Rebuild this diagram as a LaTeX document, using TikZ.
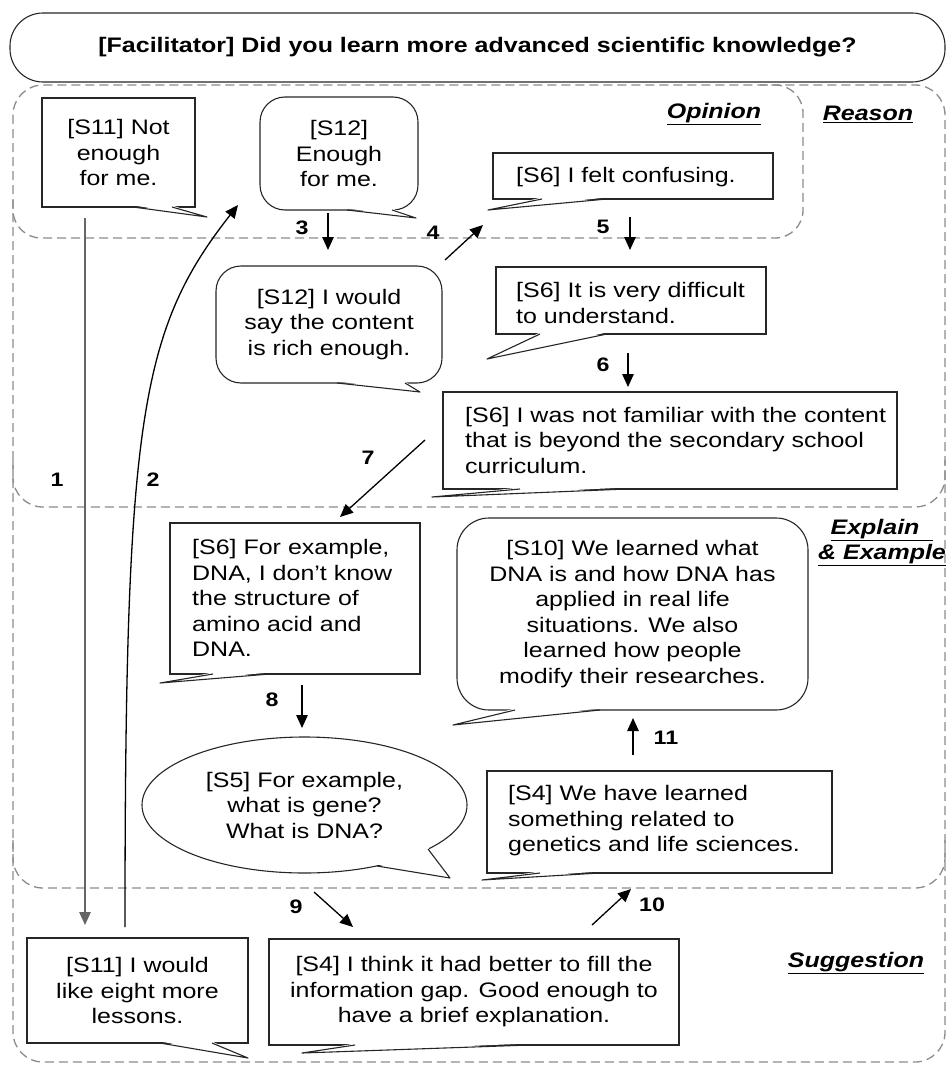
\documentclass[tikz,border=0pt]{standalone}
\usepackage{fontspec}
\setmainfont{Liberation Sans}[FakeStretch=1.19]
\usetikzlibrary{arrows.meta,shapes.geometric,calc}
\newcommand\bodyfont{\fontsize{21}{25.5}\selectfont}
\newcommand\numfont{\fontsize{19.5}{19.5}\selectfont\bfseries}
\newcommand\sectfont{\fontsize{21}{25}\selectfont\bfseries\itshape}
\newcommand\calltail[3]{%
  \fill[white] ($#1+(0,-1.6)$) -- ($#2+(0,-1.6)$) -- #3 -- cycle;
  \draw[tailline] #1 -- #3 -- #2;}
\begin{document}
\begin{tikzpicture}[x=1pt,y=-1pt,
  box/.style={draw=black!85, line width=1.1pt, fill=white, inner sep=0pt, align=center, font=\bodyfont},
  rbox/.style={box, rounded corners=25pt},
  txt/.style={inner sep=0pt, align=left, anchor=west, font=\bodyfont},
  tailline/.style={draw=black!85, line width=1.1pt, line join=round},
  region/.style={draw=black!45, line width=1.3pt, dash pattern=on 9pt off 5pt},
  flow/.style={draw=black, line width=1.3pt, -{Triangle[length=13pt,width=11.5pt]}},
  num/.style={inner sep=0pt, font=\numfont},
  sect/.style={inner sep=0pt, font=\sectfont}]
\useasboundingbox (0,0) rectangle (947,1065);

% dashed regions
\draw[region, rounded corners=30pt] (13,85) rectangle (945,1062);
\draw[region, rounded corners=28pt] (13,200) -- (13,238) -- (803,238) -- (803,85) -- (760,85);
\draw[region, rounded corners=30pt] (13,460) -- (13,507) -- (945,507) -- (945,460);
\draw[region, rounded corners=30pt] (13,840) -- (13,888) -- (945,888) -- (945,840);

% title
\node[box, rounded corners=33pt, minimum width=935pt, minimum height=69pt, font=\bodyfont\bfseries] (title) at (477.5,47.5) {[Facilitator] Did you learn more advanced scientific knowledge?};

% statements
\node[box, minimum width=153pt, minimum height=109pt] (s11a) at (118.5,152.5) {[S11] Not\\enough\\for me.};
\node[rbox, minimum width=158pt, minimum height=113pt] (s12a) at (339,153.5) {[S12]\\Enough\\for me.};
\node[box, minimum width=280pt, minimum height=46pt] (s6a) at (633,176) {};
\node[txt] (s6at) at (516,177) {[S6] I felt confusing.};
\node[rbox, minimum width=226pt, minimum height=117pt] (s12b) at (329,324.5) {[S12] I would\\say the content\\is rich enough.};
\node[box, minimum width=270pt, minimum height=67pt] (s6b) at (631,300.5) {};
\node[txt] (s6bt) at (516,303) {[S6] It is very difficult\\to understand.};
\node[box, minimum width=454pt, minimum height=97pt] (s6c) at (670,440.5) {};
\node[txt] (s6ct) at (465,440) {[S6] I was not familiar with the content\\that is beyond the secondary school\\curriculum.};
\node[box, minimum width=250pt, minimum height=151pt] (s6d) at (295,598.5) {};
\node[txt] (s6dt) at (192,598) {[S6] For example,\\DNA, I don't know\\the structure of\\amino acid and\\DNA.};
\node[box, rounded corners=32pt, minimum width=351pt, minimum height=192pt] (s10) at (632.5,614) {[S10] We learned what\\DNA is and how DNA has\\applied in real life\\situations. We also\\learned how people\\modify their researches.};
\node[box, ellipse, minimum width=325pt, minimum height=136pt] (s5) at (304.5,805) {[S5] For example,\\what is gene?\\What is DNA?};
\node[box, minimum width=345pt, minimum height=102pt] (s4a) at (659.5,822) {};
\node[txt] (s4at) at (508,821) {[S4] We have learned\\something related to\\genetics and life sciences.};
\node[box, minimum width=221pt, minimum height=105pt] (s11b) at (137.5,990.5) {[S11] I would\\like eight more\\lessons.};
\node[box, minimum width=410pt, minimum height=106pt] (s4b) at (474,992) {[S4] I think it had better to fill the\\information gap. Good enough to\\have a brief explanation.};

% callout tails
\calltail{(133,207)}{(172,207)}{(207,217)}
\calltail{(347,210)}{(392,210)}{(416,218)}
\calltail{(542,199)}{(607,199)}{(488,210)}
\calltail{(337,383)}{(405,383)}{(420,392)}
\calltail{(540,334)}{(607,334)}{(487,359)}
\calltail{(520,489)}{(627,489)}{(432,497)}
\calltail{(213,674)}{(270,674)}{(160,683)}
\calltail{(515,710)}{(600,710)}{(453,725)}
\calltail{(377,866)}{(428,849)}{(450,878)}
\calltail{(540,873)}{(600,873)}{(482,880)}
\calltail{(160,1043)}{(212,1043)}{(248,1058)}
\calltail{(355,1045)}{(530,1045)}{(302,1053)}

% connector end points
\coordinate (a1s) at (85,218);   \coordinate (a1e) at (85,925);
\coordinate (a2s) at (125,927);  \coordinate (a2e) at (238,205);
\coordinate (a3s) at (328,213);  \coordinate (a3e) at (328,250);
\coordinate (a4s) at (445,260);  \coordinate (a4e) at (483,225);
\coordinate (a5s) at (630,217);  \coordinate (a5e) at (630,250);
\coordinate (a6s) at (628,353);  \coordinate (a6e) at (628,387);
\coordinate (a7s) at (425,440);  \coordinate (a7e) at (340,517);
\coordinate (a8s) at (302,685);  \coordinate (a8e) at (302,728);
\coordinate (a9s) at (314,892);  \coordinate (a9e) at (353,927);
\coordinate (a10s) at (592,925); \coordinate (a10e) at (631,889);
\coordinate (a11s) at (633,755); \coordinate (a11e) at (633,718);

\draw[flow, draw=black!60] (a1s) -- (a1e);
\draw[flow] (a2s) .. controls (125,420) and (140,330) .. (a2e);
\draw[flow] (a3s) -- (a3e);
\draw[flow] (a4s) -- (a4e);
\draw[flow] (a5s) -- (a5e);
\draw[flow] (a6s) -- (a6e);
\draw[flow] (a7s) -- (a7e);
\draw[flow] (a8s) -- (a8e);
\draw[flow] (a9s) -- (a9e);
\draw[flow] (a10s) -- (a10e);
\draw[flow] (a11s) -- (a11e);

% step numbers
\node[num] (n1) at (57,480) {1};
\node[num] (n2) at (153,480) {2};
\node[num] (n3) at (302,228) {3};
\node[num] (n4) at (433,233) {4};
\node[num] (n5) at (603,227) {5};
\node[num] (n6) at (603,365) {6};
\node[num] (n7) at (368,458) {7};
\node[num] (n8) at (272,700) {8};
\node[num] (n9) at (296,907) {9};
\node[num] (n10) at (652,905) {10};
\node[num] (n11) at (666,738) {11};

% section labels
\node[sect] (opinion) at (714,114) {\underline{Opinion}};
\node[sect] (reason) at (868,114) {\underline{Reason}};
\node[sect, align=center] (explain) at (882,543) {\underline{Explain\ \ }\\\underline{\& Example}};
\node[sect] (suggestion) at (856,963) {\underline{Suggestion}};
\end{tikzpicture}
\end{document}
